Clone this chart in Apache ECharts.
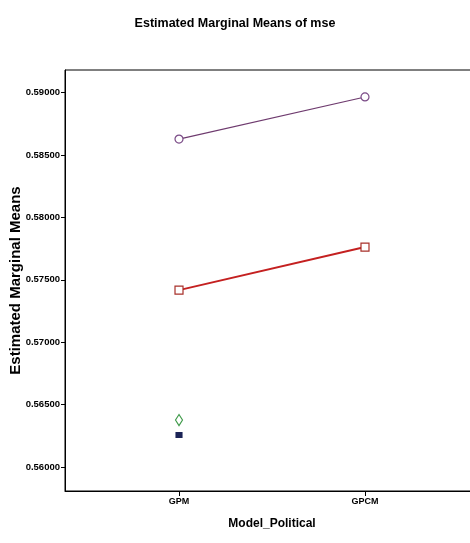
<!DOCTYPE html>
<html>
<head>
<meta charset="utf-8">
<script src="https://cdn.jsdelivr.net/npm/echarts@6/dist/echarts.min.js"></script>
<style>html,body{margin:0;padding:0;background:#fff}#c{width:470px;height:543px}</style>
</head>
<body>
<div id="c"></div>
<script>
const categories = ['GPM', 'GPCM'];
const yTicks = [0.560, 0.565, 0.570, 0.575, 0.580, 0.585, 0.590];
const seriesNames = ['Group 1', 'Group 2', 'Group 3', 'Group 4'];
const purpleVals = [0.58627, 0.58964];
const redVals = [0.57417, 0.57762];
const greenVals = [0.56376, null];
const blueVals = [0.56256, null];

const toPts = vals => vals.map((v, i) => [i, v]).filter(p => p[1] !== null);

const chart = echarts.init(document.getElementById('c'), null, {renderer: 'canvas'});
const font = 'Liberation Sans, Arial, sans-serif';
chart.setOption({
  animation: false,
  title: {
    text: 'Estimated Marginal Means of mse',
    left: 'center', top: 12,
    textStyle: {fontFamily: font, fontSize: 12.5, fontWeight: 'bold', color: '#000'}
  },
  grid: {left: 65, top: 70, width: 414, height: 421, outerBoundsMode: 'none', containLabel: false,
    show: true, borderColor: '#000', borderWidth: 1},
  xAxis: {
    type: 'value', min: -0.613, max: 1.613,
    name: 'Model_Political', nameLocation: 'middle', nameGap: 27, nameMoveOverlap: false,
    nameTextStyle: {fontFamily: font, fontSize: 12, fontWeight: 'bold', color: '#000'},
    axisLine: {show: true, onZero: false, lineStyle: {color: '#000', width: 1}},
    axisTick: {show: true, customValues: [0, 1], length: 5, lineStyle: {color: '#000'}},
    axisLabel: {customValues: [0, 1], formatter: v => categories[Math.round(v)] || '', margin: 6,
      fontFamily: font, fontSize: 9, fontWeight: 'bold', color: '#000'},
    splitLine: {show: false}
  },
  yAxis: {
    type: 'value', min: 0.55808, max: 0.5918,
    name: 'Estimated Marginal Means', nameLocation: 'middle', nameGap: 42, nameMoveOverlap: false,
    nameTextStyle: {fontFamily: font, fontSize: 15, fontWeight: 'bold', color: '#000'},
    axisLine: {show: true, onZero: false, lineStyle: {color: '#000', width: 1}},
    axisTick: {show: true, customValues: yTicks, length: 4, lineStyle: {color: '#000'}},
    axisLabel: {customValues: yTicks, formatter: v => v.toFixed(5), margin: 5,
      fontFamily: font, fontSize: 9.5, fontWeight: 'bold', color: '#000'},
    splitLine: {show: false}
  },
  series: [
    {name: seriesNames[0], type: 'line', data: toPts(purpleVals), symbol: 'circle', symbolSize: 8,
      lineStyle: {color: '#6e3a6e', width: 1.2},
      itemStyle: {color: '#fff', borderColor: '#7a4a86', borderWidth: 1.2}},
    {name: seriesNames[1], type: 'line', data: toPts(redVals), symbol: 'rect', symbolSize: 8,
      lineStyle: {color: '#c42020', width: 2},
      itemStyle: {color: '#fff', borderColor: '#a8302a', borderWidth: 1.2}},
    {name: seriesNames[2], type: 'line', data: toPts(greenVals), symbol: 'diamond', symbolSize: [7, 11],
      itemStyle: {color: '#fff', borderColor: '#3f9a4a', borderWidth: 1.2}},
    {name: seriesNames[3], type: 'line', data: toPts(blueVals), symbol: 'rect', symbolSize: [6, 5],
      itemStyle: {color: '#1c2456', borderColor: '#1c2456', borderWidth: 1}}
  ]
});
</script>
</body>
</html>
